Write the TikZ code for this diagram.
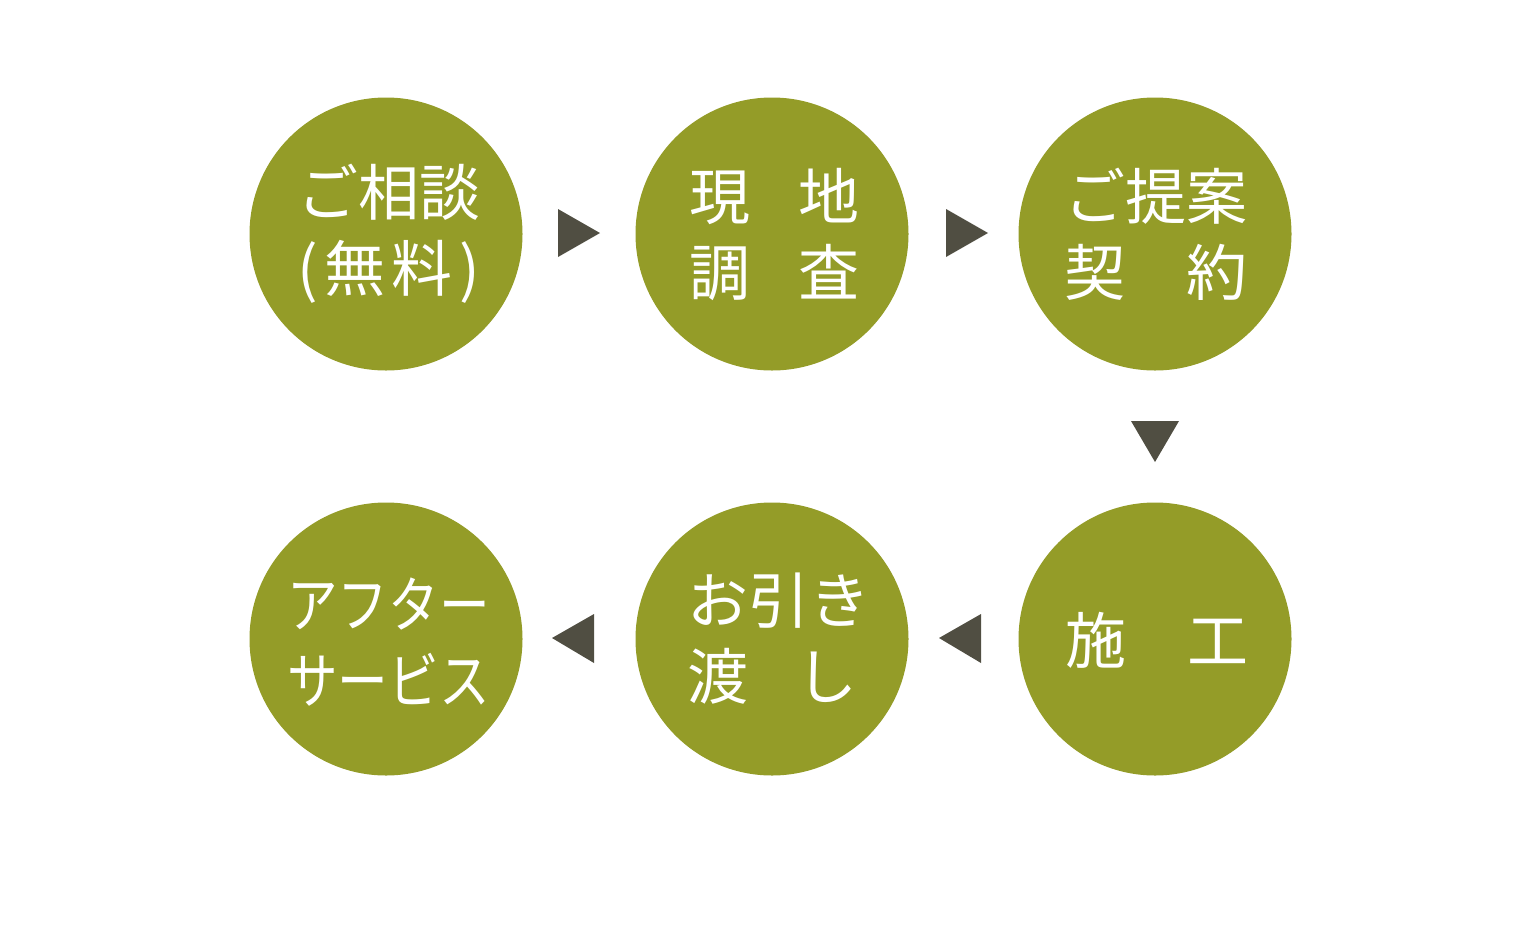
\documentclass[tikz,border=0pt]{standalone}
\usepackage{fontspec}
\usepackage{graphicx}
\newfontfamily\cjk{Noto Sans CJK JP}
\definecolor{olive}{HTML}{949C28}
\definecolor{arrowgray}{HTML}{504E42}
\newcommand{\spreadln}[3][3em]{\makebox[#1][l]{#2\hfill #3}}
\begin{document}
\begin{tikzpicture}[x=1pt,y=-1pt,
  stepcircle/.style={circle,fill=olive,minimum size=273pt,inner sep=0pt,draw=none},
  steptext/.style={text=white,font=\cjk\fontsize{61}{76}\selectfont,align=center,inner sep=0pt},
  tri/.style={fill=arrowgray,draw=none}]
\useasboundingbox (0,0) rectangle (1520,940);
\node[stepcircle] (c1) at (386,234) {};
\node[stepcircle] (c2) at (772,234) {};
\node[stepcircle] (c3) at (1155,234) {};
\node[stepcircle] (c4) at (1155,639) {};
\node[stepcircle] (c5) at (772,639) {};
\node[stepcircle] (c6) at (386,639) {};
\node[steptext] (t1) at (389,234) {ご相談\\\spreadln{(}{無\hspace{6pt}料\hfill)}};
\node[steptext] (t2) at (774.5,234) {\spreadln[171pt]{現}{地}\\\spreadln[171pt]{調}{査}};
\node[steptext] (t3) at (1156,234) {ご提案\\\spreadln{契}{約}};
\node[steptext] (t4) at (1157,640) {\spreadln{施}{工}};
\node[steptext] (t5) at (772.5,639) {\makebox[171pt][s]{お\hfill 引\hfill き}\\\spreadln[171pt]{渡}{し}};
\node[steptext] (t6) at (388.5,642) {\scalebox{0.83}[1]{アフター}\\\scalebox{0.83}[1]{サービス}};
% triangles
\fill[tri] (558,209) -- (600,233) -- (558,257) -- cycle;
\fill[tri] (946,209) -- (988,233) -- (946,257) -- cycle;
\fill[tri] (1131,421) -- (1179,421) -- (1155,462) -- cycle;
\fill[tri] (981,614) -- (939,638) -- (981,663) -- cycle;
\fill[tri] (594,614) -- (552,638) -- (594,663) -- cycle;
\end{tikzpicture}
\end{document}
